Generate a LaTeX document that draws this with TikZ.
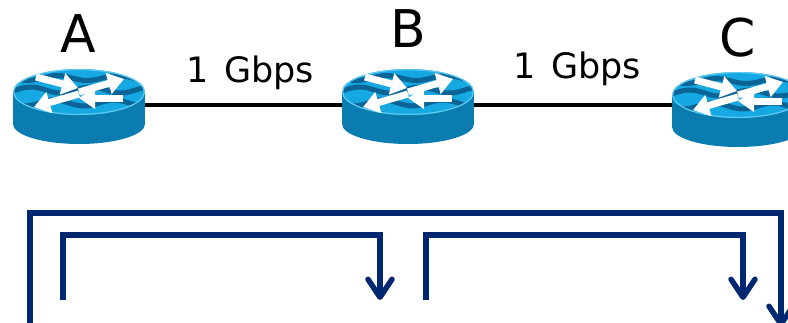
\documentclass[tikz,border=0pt]{standalone}
\usepackage{fontspec}
\setmainfont{DejaVu Sans}
\usetikzlibrary{arrows.meta}
\definecolor{navy}{RGB}{0,40,112}
\definecolor{rface}{RGB}{22,168,226}
\definecolor{rrim}{RGB}{95,202,240}
\definecolor{rwave}{RGB}{10,100,150}
\definecolor{rside}{RGB}{10,124,176}
\tikzset{
  router/.pic={
    \fill[rside] (-66,0) rectangle (66,32);
    \fill[rside] (0,32) ellipse[x radius=66,y radius=20];
    \fill[rface] (0,0) ellipse[x radius=66,y radius=23];
    \begin{scope}
      \clip (0,0) ellipse[x radius=65,y radius=22];
      \draw[rwave,line width=5pt] plot[domain=-70:70,samples=50] (\x,{-14+2.5*sin(\x*6+40)});
      \draw[rwave,line width=5pt] plot[domain=-70:70,samples=50] (\x,{-2+3*sin(\x*6+200)});
      \draw[rwave,line width=5pt] plot[domain=-70:70,samples=50] (\x,{11+3*sin(\x*6+60)});
    \end{scope}
    \draw[rrim,line width=1.2pt] (0,0) ellipse[x radius=65.4,y radius=22.4];
    \draw[rarrow] (-43,-15) -- (-1,-4);
    \draw[rarrow] (0,0) -- (45,-13);
    \draw[rarrow] (0,2) -- (-45,15);
    \draw[rarrow] (44,6) -- (0,6);
  },
  rarrow/.style={white,line width=7pt,-{Triangle[length=16pt,width=21pt]}},
  routernode/.style={minimum width=132pt,minimum height=8pt,inner sep=0pt},
  link/.style={black,line width=4pt},
  bigletter/.style={font=\fontsize{52}{60}\selectfont,inner sep=0pt},
  rate/.style={font=\fontsize{35}{40}\selectfont,inner sep=0pt,anchor=base},
  flow/.style={draw=navy,line width=5.5pt,-{Straight Barb[length=18pt,width=24pt,round]}}
}
\begin{document}
\begin{tikzpicture}[x=1pt,y=-1pt]
  \useasboundingbox (0,0) rectangle (788,322);
  \clip (0,0) rectangle (788,322);
  % routers
  \node[routernode] (A) at (79,105) {};
  \node[routernode] (B) at (408,105) {};
  \node[routernode] (C) at (738,105) {};
  \draw[link] (A.east) -- (B.west);
  \draw[link] (B.east) -- (C.west);
  \path (A) ++(0,-13) pic {router};
  \path (B) ++(0,-13) pic {router};
  \path (C) ++(0,-10) pic {router};
  % labels
  \node[bigletter] (la) at (78,34) {A};
  \node[bigletter] (lb) at (408,29) {B};
  \node[bigletter] (lc) at (738,38) {C};
  \node[rate] (r1) at (250,82) {1\hspace{0.45em}Gbps};
  \node[rate] (r2) at (577,78) {1\hspace{0.45em}Gbps};
  % flows
  \coordinate (o1) at (30,330);
  \coordinate (o3) at (781,213);
  \coordinate (o4) at (781,327);
  \coordinate (i1) at (63,300);
  \coordinate (i2) at (380,235);
  \coordinate (i3) at (380,300);
  \coordinate (j1) at (426,300);
  \coordinate (j2) at (743,235);
  \coordinate (j3) at (743,300);
  \draw[flow] (o1) |- (o3) -- (o4);
  \draw[flow] (i1) |- (i2) -- (i3);
  \draw[flow] (j1) |- (j2) -- (j3);
\end{tikzpicture}
\end{document}
